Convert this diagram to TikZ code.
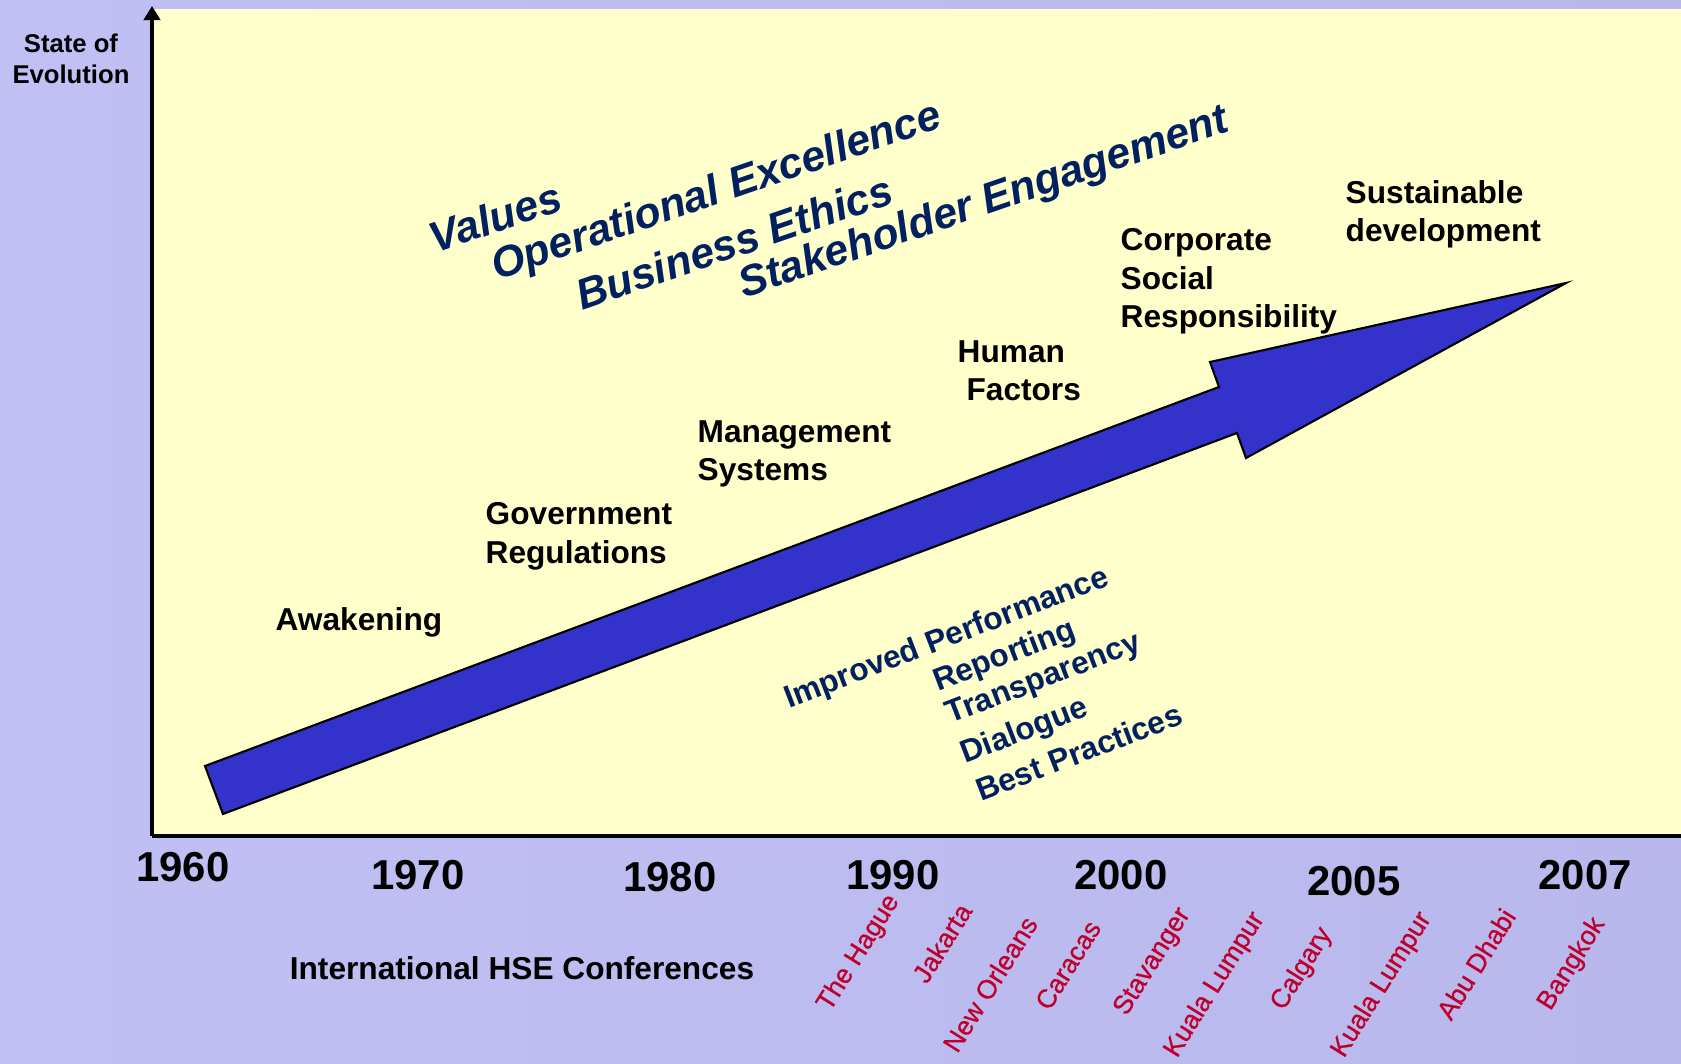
\documentclass[tikz,border=0pt]{standalone}
\usepackage{fontspec}
\setmainfont{Liberation Sans}
\newfontfamily\cityfont{Liberation Sans}[FakeBold=0.7]
\usetikzlibrary{arrows.meta}
\usepackage{xcolor}
\definecolor{panelyellow}{RGB}{255,255,204}
\definecolor{bandblue}{RGB}{51,51,204}
\definecolor{navytext}{RGB}{0,32,96}
\definecolor{cityred}{RGB}{190,0,45}
\definecolor{bgleft}{RGB}{192,192,245}
\definecolor{bgmid}{RGB}{158,158,208}
\definecolor{bgright}{RGB}{184,184,236}
\tikzstyle{axis} = [line width=1.1pt, black]

\begin{document}
\begin{tikzpicture}[
    x=0.01cm, y=-0.01cm,
    stage/.style={anchor=north west, align=left, inner sep=0pt, font=\bfseries\fontsize{9}{10.9}\selectfont},
    axistitle/.style={align=center, inner sep=0pt, font=\bfseries\fontsize{7.3}{8.8}\selectfont},
    year/.style={inner sep=0pt, font=\bfseries\fontsize{11.9}{14}\selectfont},
    theme/.style={rotate=19, inner sep=0pt, text=navytext, font=\bfseries\itshape\fontsize{12.2}{14}\selectfont},
    practice/.style={rotate=21, inner sep=0pt, text=navytext, font=\bfseries\fontsize{9}{11}\selectfont},
    city/.style={rotate=58, inner sep=0pt, text=cityred, font=\cityfont\fontsize{7.55}{9}\selectfont}
]

% Background and panel
\useasboundingbox (0,0) rectangle (1681,1064);
\shade[left color=bgleft, middle color=bgmid, right color=bgright] (0,0) rectangle (1681,1064);
\fill[panelyellow] (152,9) rectangle (1681,836);

% Axes
\coordinate (origin) at (152,836);
\coordinate (ytop) at (152,6);
\coordinate (xend) at (1681,836);
\draw [axis] (origin) -- (xend);
\draw [axis, -{Triangle[width=4.6pt,length=4pt]}] (origin) -- (ytop);

% Big arrow
\filldraw[fill=bandblue, draw=black, line width=0.6pt, line join=miter]
    (205,766) -- (1219,387) -- (1210,362) -- (1566,283) -- (1246,458) -- (1237,433) -- (223,814) -- cycle;

% Nodes
\node (stateaxis) [axistitle, anchor=north] at (71,33) {State of\\Evolution};
\node (awakening) [stage] at (275,607) {Awakening};
\node (government) [stage] at (485,502) {Government\\Regulations};
\node (management) [stage] at (697,420) {Management\\Systems};
\node (human) [stage] at (957,340) {Human\\\hspace*{.28em}Factors};
\node (csr) [stage] at (1120,228) {Corporate\\Social\\Responsibility};
\node (sustain) [stage] at (1345,180) {Sustainable\\development};

\node (values) [theme] at (495,217) {Values};
\node (opex) [theme] at (717,193) {Operational Excellence};
\node (ethics) [theme] at (734,242) {Business Ethics};
\node (stakeholder) [theme] at (984,204) {Stakeholder Engagement};

\node (improved) [practice] at (947,639) {Improved Performance};
\node (reporting) [practice] at (1005,657) {Reporting};
\node (transparency) [practice] at (1044,680) {Transparency};
\node (dialogue) [practice] at (1025,732) {Dialogue};
\node (bestpractice) [practice] at (1079,752) {Best Practices};

% Time axis
\node (y1960) [year] at (183,867) {1960};
\node (y1970) [year] at (418,875) {1970};
\node (y1980) [year] at (670,877) {1980};
\node (y1990) [year] at (893,875) {1990};
\node (y2000) [year] at (1121,875) {2000};
\node (y2005) [year] at (1354,881) {2005};
\node (y2007) [year] at (1585,875) {2007};

\node (hse) [inner sep=0pt, font=\bfseries\fontsize{9}{11}\selectfont] at (522,968) {International HSE Conferences};

\node (hague) [city] at (859,953) {The Hague};
\node (jakarta) [city] at (942,943) {Jakarta};
\node (neworleans) [city] at (990,984) {New Orleans};
\node (caracas) [city] at (1068,965) {Caracas};
\node (stavanger) [city] at (1153,962) {Stavanger};
\node (kualaone) [city] at (1215,985) {Kuala Lumpur};
\node (calgary) [city] at (1302,969) {Calgary};
\node (kualatwo) [city] at (1382,985) {Kuala Lumpur};
\node (abudhabi) [city] at (1476,964) {Abu Dhabi};
\node (bangkok) [city] at (1572,964) {Bangkok};

\end{tikzpicture}
\end{document}
